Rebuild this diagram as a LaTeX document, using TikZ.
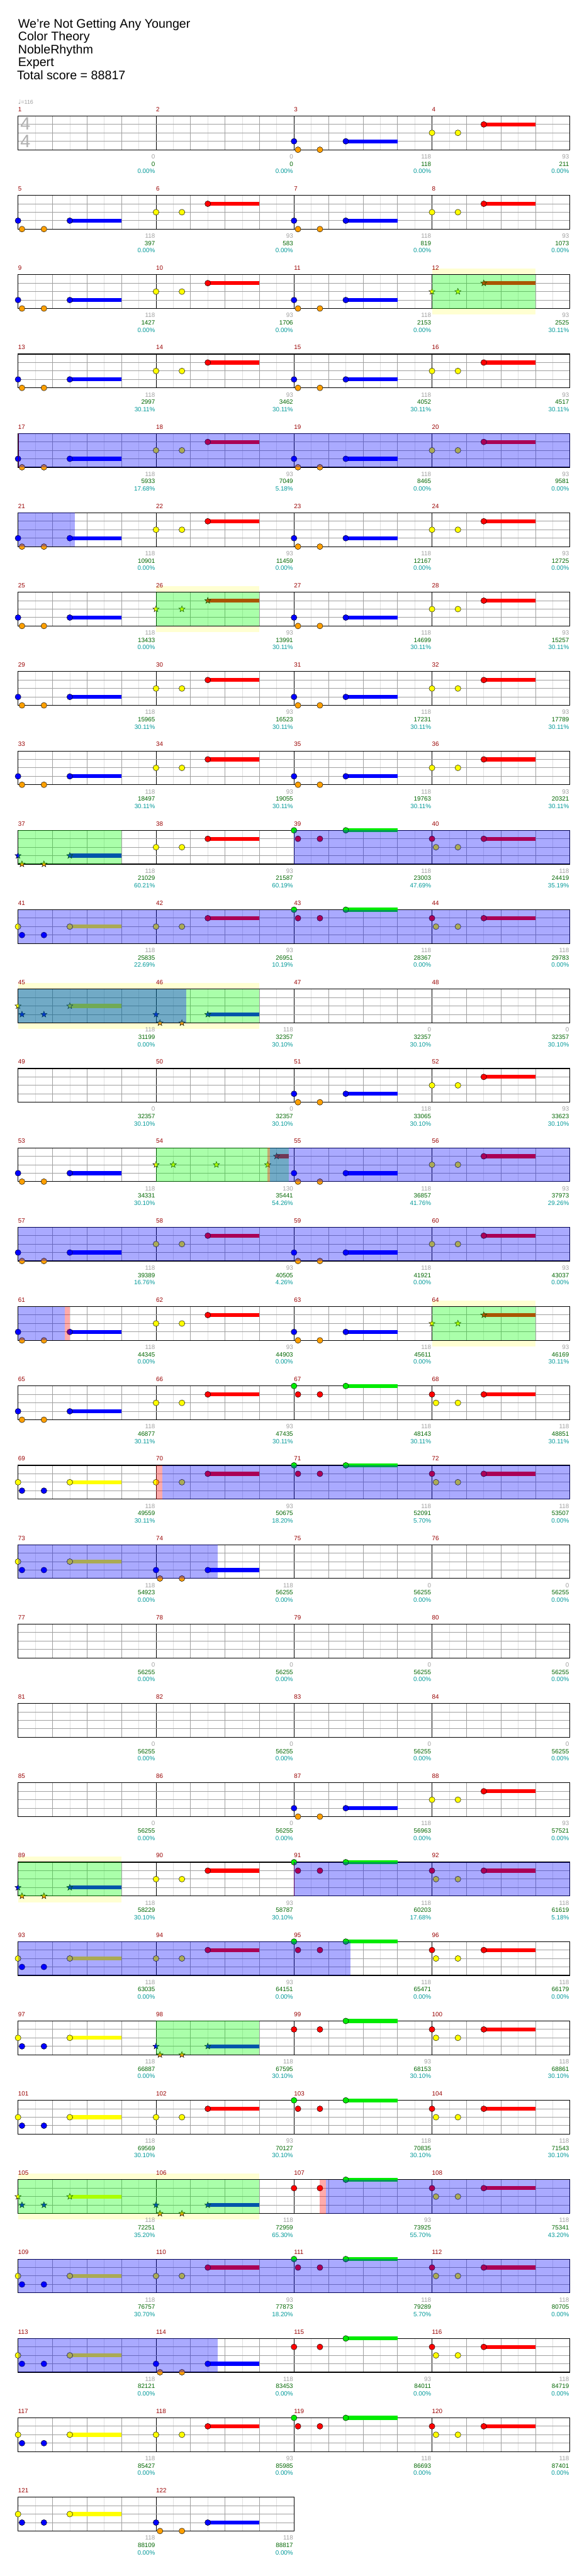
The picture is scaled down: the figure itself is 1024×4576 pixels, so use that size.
\documentclass[tikz,border=0pt]{standalone}
\usepackage{fontspec}
\setmainfont{Liberation Sans}
\newfontfamily\notefont{DejaVu Sans}
\usetikzlibrary{positioning}

\definecolor{lanegreen}{RGB}{0,235,0}
\definecolor{lanered}{RGB}{255,0,0}
\definecolor{laneyellow}{RGB}{255,255,0}
\definecolor{laneblue}{RGB}{0,0,255}
\definecolor{laneorange}{RGB}{255,160,0}
\definecolor{measred}{RGB}{153,0,0}
\definecolor{cntgray}{RGB}{160,160,160}
\definecolor{scoregreen}{RGB}{0,102,0}
\definecolor{pctteal}{RGB}{0,153,153}
\definecolor{gridgray}{RGB}{160,160,160}
\definecolor{gridlight}{RGB}{224,224,224}
\definecolor{bandyellow}{RGB}{255,255,210}
\definecolor{tsgray}{RGB}{176,176,176}

\tikzset{
  measline/.style={draw=black, line width=0.8pt},
  quarterline/.style={draw=gridgray, line width=0.8pt},
  eighthline/.style={draw=gridlight, line width=0.8pt},
  laneline/.style={draw=gridgray, line width=1.1pt},
  staffborder/.style={draw=black, line width=1.3pt},
  notebody/.style={draw=black, line width=0.5pt}
}

% position of a measure: row, column, left edge, staff top
\newcommand{\chartpos}[1]{%
  \pgfmathtruncatemacro{\rw}{(#1-1)/4}%
  \pgfmathtruncatemacro{\colm}{#1-1-4*\rw}%
  \pgfmathsetmacro{\xo}{32+245*\colm}%
  \pgfmathsetmacro{\yo}{206+141*\rw}}

% one staff: top edge, number of eighths
\newcommand{\chartstaff}[2]{%
  \fill[white] (32,#1) rectangle (32+30.625*#2,#1+60);
  \pgfmathtruncatemacro{\kmax}{#2-1}%
  \foreach \kk in {1,...,\kmax}{%
    \pgfmathtruncatemacro{\kq}{mod(\kk,8)}%
    \pgfmathtruncatemacro{\ke}{mod(\kk,2)}%
    \ifnum\kq=0 \draw[measline] (32+30.625*\kk,#1) -- ++(0,60);%
    \else\ifnum\ke=1 \draw[eighthline] (32+30.625*\kk,#1) -- ++(0,60);%
    \else \draw[quarterline] (32+30.625*\kk,#1) -- ++(0,60);\fi\fi}
  \foreach \yy in {15,30,45}{\draw[laneline] (32,#1+\yy) -- (32+30.625*#2,#1+\yy);}
  \draw[staffborder] (32,#1) rectangle (32+30.625*#2,#1+60);}

% a gem (star when \sflag=1): offset, lane, colour
\newcommand{\chartnote}[3]{%
  \ifnum\sflag=1
    \filldraw[notebody, fill=#3, shift={(\xo+#1,\yo+#2)}] (270:5.8) -- (306:2.4) -- (342:5.8) -- (18:2.4) -- (54:5.8) -- (90:2.4) -- (126:5.8) -- (162:2.4) -- (198:5.8) -- (234:2.4) -- cycle;
  \else
    \filldraw[notebody, fill=#3] (\xo+#1,\yo+#2) ellipse [x radius=5.2, y radius=5.2];
  \fi}

% a sustain bar: from, to, lane, colour
\newcommand{\chartsus}[4]{\fill[#4] (\xo+#1,\yo+#3-3.5) rectangle (\xo+#2,\yo+#3+3.5);}

% measure patterns
\newcommand{\mpatA}{\chartsus{91.9}{183.75}{45}{laneblue}\chartnote{0}{45}{laneblue}\chartnote{7}{60}{laneorange}\chartnote{46}{60}{laneorange}\chartnote{91.9}{45}{laneblue}}
\newcommand{\mpatB}{\chartsus{91.9}{183.75}{15}{lanered}\chartnote{0}{30}{laneyellow}\chartnote{46}{30}{laneyellow}\chartnote{91.9}{15}{lanered}}
\newcommand{\mpatC}{\chartsus{91.9}{183.75}{30}{laneyellow}\chartnote{0}{30}{laneyellow}\chartnote{7}{45}{laneblue}\chartnote{46}{45}{laneblue}\chartnote{91.9}{30}{laneyellow}}
\newcommand{\mpatE}{\chartsus{91.9}{183.75}{0}{lanegreen}\chartnote{0}{0}{lanegreen}\chartnote{7}{15}{lanered}\chartnote{46}{15}{lanered}\chartnote{91.9}{0}{lanegreen}}
\newcommand{\mpatF}{\chartsus{91.9}{183.75}{15}{lanered}\chartnote{0}{15}{lanered}\chartnote{7}{30}{laneyellow}\chartnote{46}{30}{laneyellow}\chartnote{91.9}{15}{lanered}}
\newcommand{\mpatG}{\chartsus{91.9}{183.75}{0}{lanegreen}\chartnote{0}{15}{lanered}\chartnote{46}{15}{lanered}\chartnote{91.9}{0}{lanegreen}}
\newcommand{\mpatS}{\chartsus{214}{236}{15}{lanered}\chartnote{0}{30}{laneyellow}\chartnote{30.6}{30}{laneyellow}\chartnote{107.2}{30}{laneyellow}\chartnote{198.3}{30}{laneyellow}\chartnote{214}{15}{lanered}}

\begin{document}
\begin{tikzpicture}[x=1pt, y=-1pt,
    titleline/.style={anchor=base west, inner sep=0pt, font=\fontsize{22}{22}\selectfont},
    measlabel/.style={anchor=base west, inner sep=0pt, text=measred, font=\fontsize{11}{11}\selectfont},
    cntlabel/.style={anchor=base east, inner sep=0pt, text=cntgray, font=\fontsize{11}{11}\selectfont},
    scorelabel/.style={anchor=base east, inner sep=0pt, text=scoregreen, font=\fontsize{11}{11}\selectfont},
    pctlabel/.style={anchor=base east, inner sep=0pt, text=pctteal, font=\fontsize{11}{11}\selectfont},
    spband/.style={fill=bandyellow},
    spgreen/.style={fill={rgb,255:red,0;green,255;blue,0}, fill opacity=0.333},
    spblue/.style={fill={rgb,255:red,0;green,0;blue,255}, fill opacity=0.333},
    sppink/.style={fill={rgb,255:red,255;green,0;blue,0}, fill opacity=0.333},
    spmark/.style={draw={rgb,255:red,140;green,0;blue,0}, line width=1.2pt}]

    \useasboundingbox (0,0) rectangle (1024,4576);
    \fill[white] (0,0) rectangle (1024,4576);

    % Header
    \node[titleline] (ttl1) at (32,49.3) {We're Not Getting Any Younger};
    \node[titleline] (ttl2) at (32,72.3) {Color Theory};
    \node[titleline] (ttl3) at (32,95.3) {NobleRhythm};
    \node[titleline] (ttl4) at (32,118.3) {Expert};
    \node[titleline] (ttl5) at (30,141.3) {Total score = 88817};
    \node[anchor=base west, inner sep=0pt, text=cntgray] (tempo) at (32,185)
        {{\notefont\fontsize{11}{11}\selectfont ♩}{\fontsize{10}{10}\selectfont =116}};

    % Bands behind the phrases
    \foreach \row/\xa/\xb in {2/767/950.75, 6/277/460.75, 11/32/460.75, 15/767/950.75, 22/32/215.75, 26/32/460.75}
        \fill[spband] (\xa,206+141*\row-10.5) rectangle (\xb,206+141*\row+71);

    % Staves
    \foreach \row in {0,...,29}{\chartstaff{206+141*\row}{32}}
    \chartstaff{4436}{16}
    \node[text=tsgray, font=\fontsize{32}{32}\selectfont, inner sep=0pt] (tsig1) at (45,220) {4};
    \node[text=tsgray, font=\fontsize{32}{32}\selectfont, inner sep=0pt] (tsig2) at (45,251) {4};

    % Notes
    \foreach \mnum/\ptn/\stf in {3/A/0, 4/B/0, 5/A/0, 6/B/0, 7/A/0, 8/B/0, 9/A/0, 10/B/0, 11/A/0, 12/B/1,
        13/A/0, 14/B/0, 15/A/0, 16/B/0, 17/A/0, 18/B/0, 19/A/0, 20/B/0, 21/A/0, 22/B/0, 23/A/0, 24/B/0,
        25/A/0, 26/B/1, 27/A/0, 28/B/0, 29/A/0, 30/B/0, 31/A/0, 32/B/0, 33/A/0, 34/B/0, 35/A/0, 36/B/0,
        37/A/1, 38/B/0, 39/E/0, 40/F/0, 41/C/0, 42/B/0, 43/E/0, 44/F/0, 45/C/1, 46/A/1,
        51/A/0, 52/B/0, 53/A/0, 54/S/1, 55/A/0, 56/B/0, 57/A/0, 58/B/0, 59/A/0, 60/B/0,
        61/A/0, 62/B/0, 63/A/0, 64/B/1, 65/A/0, 66/B/0, 67/E/0, 68/F/0, 69/C/0, 70/B/0, 71/E/0, 72/F/0,
        73/C/0, 74/A/0, 87/A/0, 88/B/0, 89/A/1, 90/B/0, 91/E/0, 92/F/0, 93/C/0, 94/B/0, 95/E/0, 96/F/0,
        97/C/0, 98/A/1, 99/G/0, 100/F/0, 101/C/0, 102/B/0, 103/E/0, 104/F/0, 105/C/1, 106/A/1, 107/G/0, 108/F/0,
        109/C/0, 110/B/0, 111/E/0, 112/F/0, 113/C/0, 114/A/0, 115/G/0, 116/F/0,
        117/C/0, 118/B/0, 119/E/0, 120/F/0, 121/C/0, 122/A/0}{
        \chartpos{\mnum}\def\sflag{\stf}\csname mpat\ptn\endcsname}

    % Star power phrases
    \foreach \row/\xa/\xb in {2/767/950.75, 6/277/460.75, 9/32/215.75, 11/32/460.75, 13/277/513,
        15/767/950.75, 22/32/215.75, 24/277/460.75, 26/32/460.75}
        \fill[spgreen] (\xa,206+141*\row) rectangle (\xb,206+141*\row+60);
    \foreach \row/\xa/\xb in {13/475/479, 15/115/124, 17/277/288, 26/567/579}
        \fill[sppink] (\xa,206+141*\row) rectangle (\xb,206+141*\row+60);
    \foreach \row/\xa in {4/32.6, 22/522}
        \draw[spmark] (\xa,206+141*\row) -- ++(0,60);

    % Activations
    \foreach \row/\xa/\xb in {4/32/1012, 5/32/133, 9/522/1012, 10/32/1012, 11/32/331, 13/479/1012,
        14/32/1012, 15/32/115, 17/288/1012, 18/32/387, 22/522/1012, 23/32/622, 26/579/1012,
        27/32/1012, 28/32/387}
        \fill[spblue] (\xa,206+141*\row) rectangle (\xb,206+141*\row+60);

    % Measure numbers and totals
    \foreach \mnum/\cnt/\scr/\pct in {1/0/0/0.00, 2/0/0/0.00, 3/118/118/0.00, 4/93/211/0.00,
        5/118/397/0.00, 6/93/583/0.00, 7/118/819/0.00, 8/93/1073/0.00,
        9/118/1427/0.00, 10/93/1706/0.00, 11/118/2153/0.00, 12/93/2525/30.11,
        13/118/2997/30.11, 14/93/3462/30.11, 15/118/4052/30.11, 16/93/4517/30.11,
        17/118/5933/17.68, 18/93/7049/5.18, 19/118/8465/0.00, 20/93/9581/0.00,
        21/118/10901/0.00, 22/93/11459/0.00, 23/118/12167/0.00, 24/93/12725/0.00,
        25/118/13433/0.00, 26/93/13991/30.11, 27/118/14699/30.11, 28/93/15257/30.11,
        29/118/15965/30.11, 30/93/16523/30.11, 31/118/17231/30.11, 32/93/17789/30.11,
        33/118/18497/30.11, 34/93/19055/30.11, 35/118/19763/30.11, 36/93/20321/30.11,
        37/118/21029/60.21, 38/93/21587/60.19, 39/118/23003/47.69, 40/118/24419/35.19,
        41/118/25835/22.69, 42/93/26951/10.19, 43/118/28367/0.00, 44/118/29783/0.00,
        45/118/31199/0.00, 46/118/32357/30.10, 47/0/32357/30.10, 48/0/32357/30.10,
        49/0/32357/30.10, 50/0/32357/30.10, 51/118/33065/30.10, 52/93/33623/30.10,
        53/118/34331/30.10, 54/130/35441/54.26, 55/118/36857/41.76, 56/93/37973/29.26,
        57/118/39389/16.76, 58/93/40505/4.26, 59/118/41921/0.00, 60/93/43037/0.00,
        61/118/44345/0.00, 62/93/44903/0.00, 63/118/45611/0.00, 64/93/46169/30.11,
        65/118/46877/30.11, 66/93/47435/30.11, 67/118/48143/30.11, 68/118/48851/30.11,
        69/118/49559/30.11, 70/93/50675/18.20, 71/118/52091/5.70, 72/118/53507/0.00,
        73/118/54923/0.00, 74/118/56255/0.00, 75/0/56255/0.00, 76/0/56255/0.00,
        77/0/56255/0.00, 78/0/56255/0.00, 79/0/56255/0.00, 80/0/56255/0.00,
        81/0/56255/0.00, 82/0/56255/0.00, 83/0/56255/0.00, 84/0/56255/0.00,
        85/0/56255/0.00, 86/0/56255/0.00, 87/118/56963/0.00, 88/93/57521/0.00,
        89/118/58229/30.10, 90/93/58787/30.10, 91/118/60203/17.68, 92/118/61619/5.18,
        93/118/63035/0.00, 94/93/64151/0.00, 95/118/65471/0.00, 96/118/66179/0.00,
        97/118/66887/0.00, 98/118/67595/30.10, 99/93/68153/30.10, 100/118/68861/30.10,
        101/118/69569/30.10, 102/93/70127/30.10, 103/118/70835/30.10, 104/118/71543/30.10,
        105/118/72251/35.20, 106/118/72959/65.30, 107/93/73925/55.70, 108/118/75341/43.20,
        109/118/76757/30.70, 110/93/77873/18.20, 111/118/79289/5.70, 112/118/80705/0.00,
        113/118/82121/0.00, 114/118/83453/0.00, 115/93/84011/0.00, 116/118/84719/0.00,
        117/118/85427/0.00, 118/93/85985/0.00, 119/118/86693/0.00, 120/118/87401/0.00,
        121/118/88109/0.00, 122/118/88817/0.00}{
        \chartpos{\mnum}
        \node[measlabel] (lbl\mnum) at (\xo,\yo-8) {\mnum};
        \node[cntlabel] (cnt\mnum) at (\xo+243.5,\yo+76) {\cnt};
        \node[scorelabel] (scr\mnum) at (\xo+243.5,\yo+89) {\scr};
        \node[pctlabel] (pct\mnum) at (\xo+243.5,\yo+102) {\pct\%};
    }

\end{tikzpicture}
\end{document}
